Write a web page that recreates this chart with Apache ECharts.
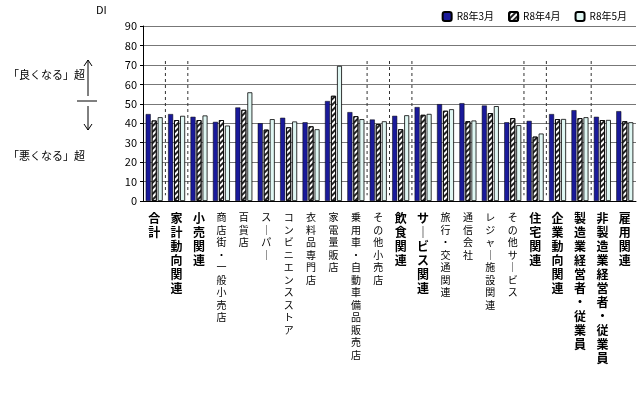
<!DOCTYPE html>
<html><head><meta charset="utf-8">
<script src="https://cdn.jsdelivr.net/npm/echarts@6/dist/echarts.min.js"></script>
<style>html,body{margin:0;padding:0;background:#fff}#c{width:640px;height:403px}</style>
</head><body><div id="c"></div>
<script>
const categories = ['合計','家計動向関連','小売関連','商店街・一般小売店','百貨店','スーパー','コンビニエンスストア','衣料品専門店','家電量販店','乗用車・自動車備品販売店','その他小売店','飲食関連','サービス関連','旅行・交通関連','通信会社','レジャー施設関連','その他サービス','住宅関連','企業動向関連','製造業経営者・従業員','非製造業経営者・従業員','雇用関連'];
const boldCats = ['合計','家計動向関連','小売関連','飲食関連','サービス関連','住宅関連','企業動向関連','製造業経営者・従業員','非製造業経営者・従業員','雇用関連'];
const seriesNames = ['R8年3月','R8年4月','R8年5月'];
const march = [44.7,44.7,43.3,40.7,48.1,40.0,42.8,40.5,51.4,45.7,41.9,43.8,48.3,49.8,50.3,49.1,40.5,41.2,44.7,46.7,43.3,46.2];
const april = [41.4,41.6,41.6,41.6,46.9,36.7,37.9,38.4,54.1,43.6,39.5,36.9,44.3,46.4,41.0,45.2,42.6,33.1,42.1,42.6,41.6,41.0];
const may   = [43.1,43.8,44.0,38.8,55.9,42.1,40.9,36.9,69.5,42.1,41.0,44.1,44.8,47.2,41.4,48.8,39.0,34.7,42.2,43.1,41.7,40.5];
const yTicks = [0,10,20,30,40,50,60,70,80,90];
const dashBoundaries = [1,2,10,11,12,17,18,20];

const chart = echarts.init(document.getElementById('c'));
const font = "'Noto Sans CJK JP', sans-serif";
function vert(s){ return s.replace(/ー/g,'｜').split('').join('\n'); }
chart.setOption({
  animation:false,
  textStyle:{fontFamily:font},
  legend:{top:6,right:8,itemWidth:9,itemHeight:9,itemGap:14,data:seriesNames,textStyle:{fontSize:10,color:'#000',fontFamily:font}},
  grid:{left:143,right:4,top:26,bottom:202},
  xAxis:{type:'category',data:categories,
    axisLine:{lineStyle:{color:'#000'}},axisTick:{show:false},
    axisLabel:{interval:0,margin:10,verticalAlign:'top',lineHeight:13,
      formatter:(v)=> boldCats.includes(v) ? '{b|'+vert(v)+'}' : '{n|'+vert(v)+'}',
      rich:{b:{fontSize:12,fontWeight:'bold',lineHeight:14,color:'#000',fontFamily:font},
            n:{fontSize:10,lineHeight:12.5,color:'#000',fontFamily:font}}}},
  yAxis:{type:'value',min:0,max:90,interval:10,
    axisLine:{show:true,lineStyle:{color:'#000'}},axisTick:{show:true,length:3},
    axisLabel:{fontSize:11,color:'#000',margin:6},
    splitLine:{lineStyle:{color:'#777'}}},
  series:[
    {name:seriesNames[0],type:'bar',data:march,barWidth:5,barGap:'20%',
      itemStyle:{color:'#1a1a9a',borderColor:'#000',borderWidth:0.5}},
    {name:seriesNames[1],type:'bar',data:april,barWidth:5,
      itemStyle:{color:'#fff',borderColor:'#000',borderWidth:0.8,
        decal:{symbol:'rect',symbolSize:1,color:'#222',dashArrayX:[1,0],dashArrayY:[1.5,2],rotation:-Math.PI/4}}},
    {name:seriesNames[2],type:'bar',data:may,barWidth:5,
      itemStyle:{color:'#dff7f3',borderColor:'#000',borderWidth:0.8}},
    {name:'sep',type:'custom',data:dashBoundaries.map(k=>[k]),silent:true,z:1,
      renderItem:(params,api)=>{
        const k=api.value(0);
        const a=api.coord([k-1,0]), b=api.coord([k,0]);
        const x=(a[0]+b[0])/2;
        const y1=api.coord([k,72])[1], y2=api.coord([k,3])[1];
        return {type:'line',shape:{x1:x,y1:y1,x2:x,y2:y2},style:{stroke:'#333',lineWidth:1,lineDash:[3,3]}};
      }}
  ],
  graphic:[
    {type:'text',left:96,top:4,style:{text:'DI',fontSize:11,fill:'#000',fontFamily:font}},
    {type:'text',left:8,top:69,style:{text:'「良くなる」超',fontSize:11,fill:'#000',fontFamily:font}},
    {type:'text',left:8,top:150,style:{text:'「悪くなる」超',fontSize:11,fill:'#000',fontFamily:font}},
    {type:'line',shape:{x1:88,y1:96,x2:88,y2:60},style:{stroke:'#000',lineWidth:1}},
    {type:'polyline',shape:{points:[[84,66],[88,60],[92,66]]},style:{stroke:'#000',fill:null,lineWidth:1}},
    {type:'line',shape:{x1:77,y1:101,x2:97,y2:101},style:{stroke:'#000',lineWidth:1}},
    {type:'line',shape:{x1:88,y1:106,x2:88,y2:130},style:{stroke:'#000',lineWidth:1}},
    {type:'polyline',shape:{points:[[84,124],[88,130],[92,124]]},style:{stroke:'#000',fill:null,lineWidth:1}}
  ]
});
</script></body></html>
